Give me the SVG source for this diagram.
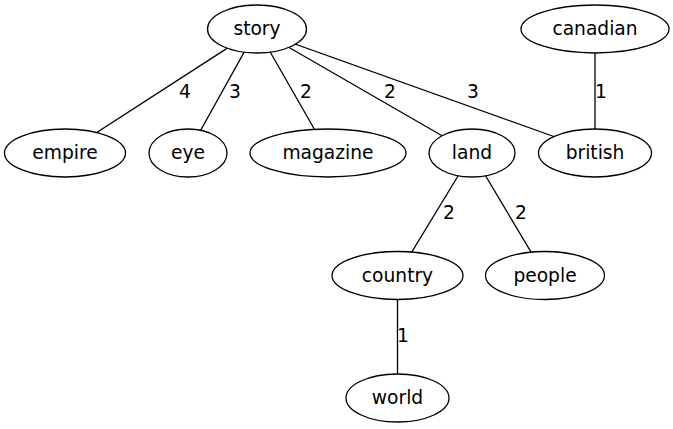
<svg xmlns="http://www.w3.org/2000/svg" width="673" height="429" viewBox="0 0 673 429">
<style>
.n ellipse{fill:#fff;stroke:#000;stroke-width:1.3}
.n text,.l text{font-family:"DejaVu Sans",sans-serif;font-size:18.67px;fill:#000}
.n text{text-anchor:middle}
.l text{text-anchor:middle}
#edges line{stroke:#000;stroke-width:1.3}
</style>
<rect width="673" height="429" fill="#fff"/>
<g id="edges">
<line x1="257" y1="29" x2="65" y2="153"/>
<line x1="257" y1="29" x2="188" y2="153"/>
<line x1="257" y1="29" x2="328" y2="153"/>
<line x1="257" y1="29" x2="472" y2="153"/>
<line x1="253" y1="29" x2="600" y2="153"/>
<line x1="595" y1="29" x2="595" y2="153"/>
<line x1="472" y1="153" x2="397.5" y2="275.5"/>
<line x1="472" y1="153" x2="545" y2="275.5"/>
<line x1="397.5" y1="275.5" x2="397.5" y2="398"/>
</g>
<g class="l" id="edge-labels">
<text x="185" y="98">4</text>
<text x="235" y="98">3</text>
<text x="306" y="98">2</text>
<text x="390" y="98">2</text>
<text x="473" y="98">3</text>
<text x="601" y="98">1</text>
<text x="449" y="219">2</text>
<text x="521" y="219">2</text>
<text x="403" y="342">1</text>
</g>
<g class="n" id="story"><ellipse cx="257" cy="29" rx="49.5" ry="24"/><text x="257" y="35">story</text></g>
<g class="n" id="canadian"><ellipse cx="595" cy="29" rx="74" ry="24"/><text x="595" y="35">canadian</text></g>
<g class="n" id="empire"><ellipse cx="65" cy="153" rx="60.5" ry="24"/><text x="65" y="159">empire</text></g>
<g class="n" id="eye"><ellipse cx="188" cy="153" rx="39" ry="24"/><text x="188" y="159">eye</text></g>
<g class="n" id="magazine"><ellipse cx="328" cy="153" rx="78" ry="24"/><text x="328" y="159">magazine</text></g>
<g class="n" id="land"><ellipse cx="472" cy="153" rx="43" ry="24"/><text x="472" y="159">land</text></g>
<g class="n" id="british"><ellipse cx="595" cy="153" rx="56.5" ry="24"/><text x="595" y="159">british</text></g>
<g class="n" id="country"><ellipse cx="397.5" cy="275.5" rx="65.5" ry="24"/><text x="397.5" y="281.5">country</text></g>
<g class="n" id="people"><ellipse cx="545" cy="275.5" rx="59.5" ry="24"/><text x="545" y="281.5">people</text></g>
<g class="n" id="world"><ellipse cx="397.5" cy="398" rx="51.5" ry="24"/><text x="397.5" y="404">world</text></g>
</svg>
